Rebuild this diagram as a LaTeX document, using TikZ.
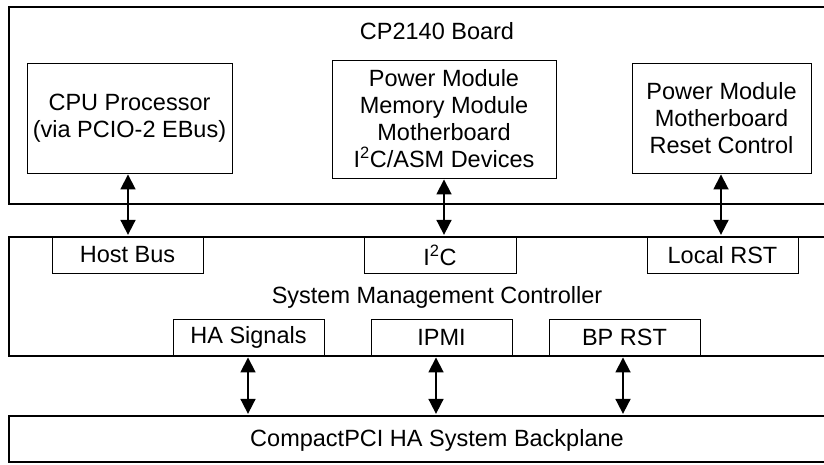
\documentclass[tikz,border=0pt]{standalone}
\usepackage{fontspec}
\setmainfont{Liberation Sans}
\usetikzlibrary{arrows.meta,calc}
\tikzset{
  outerbox/.style={draw, line width=2.3pt, inner sep=0pt, minimum width=856pt},
  innerbox/.style={draw, line width=0.9pt, inner sep=0pt, align=center},
  txt/.style={inner sep=0pt, font=\fontsize{23.5}{27}\selectfont, align=center},
  link/.style={line width=1.8pt, {Triangle[length=15pt,width=15pt]}-{Triangle[length=15pt,width=15pt]}, shorten <=1pt, shorten >=1pt}
}
\begin{document}
\begin{tikzpicture}[x=1pt,y=-1pt]
\useasboundingbox (0,0) rectangle (824,464);
\clip (0,0) rectangle (824,464);
% outer boxes
\node[outerbox, minimum height=197pt] (board) at (437,105.5) {};
\node[outerbox, minimum height=119pt] (smc) at (437,296.5) {};
\node[outerbox, minimum height=46pt] (bp) at (437,439) {};
% titles
\node[txt] (boardlbl) at (437,31) {CP2140 Board};
\node[txt] (smclbl) at (437,297) {System Management Controller};
\node[txt] (bplbl) at (437,440) {CompactPCI HA System Backplane};
% board modules
\node[innerbox, txt, draw, line width=0.9pt, minimum width=205pt, minimum height=110pt] (cpu) at (129.5,118) {CPU Processor\\(via PCIO-2 EBus)};
\node[innerbox, txt, draw, line width=0.9pt, minimum width=224pt, minimum height=118pt] (mid) at (444,119) {Power Module\\Memory Module\\Motherboard\\I\textsuperscript{2}C/ASM Devices};
\node[innerbox, txt, draw, line width=0.9pt, minimum width=179pt, minimum height=110pt] (rst) at (721.5,118) {Power Module\\Motherboard\\Reset Control};
% SMC upper ports
\node[innerbox, txt, draw, line width=0.9pt, minimum width=151pt, minimum height=36pt] (hb) at (127.5,255) {Host Bus};
\node[innerbox, txt, draw, line width=0.9pt, minimum width=152pt, minimum height=36pt] (i2c) at (440,255) {I\textsuperscript{2}C};
\node[innerbox, txt, draw, line width=0.9pt, minimum width=151pt, minimum height=36pt] (lrst) at (722.5,255) {Local RST};
% SMC lower ports
\node[innerbox, txt, draw, line width=0.9pt, minimum width=151pt, minimum height=37pt] (ha) at (248.5,337.5) {HA Signals};
\node[innerbox, txt, draw, line width=0.9pt, minimum width=141pt, minimum height=37pt] (ipmi) at (441.5,337.5) {IPMI};
\node[innerbox, txt, draw, line width=0.9pt, minimum width=151pt, minimum height=37pt] (bprst) at (624.5,337.5) {BP RST};
% connectors
\draw[link] ([xshift=-1.5pt]cpu.south) -- ([xshift=-1.5pt]cpu.south |- smc.north);
\draw[link] (mid.south) -- (mid.south |- smc.north);
\draw[link] ([xshift=-0.5pt]rst.south) -- ([xshift=-0.5pt]rst.south |- smc.north);
\draw[link] ([xshift=-0.5pt]ha.south) -- ([xshift=-0.5pt]ha.south |- bp.north);
\draw[link] ([xshift=-5.5pt]ipmi.south) -- ([xshift=-5.5pt]ipmi.south |- bp.north);
\draw[link] ([xshift=-1.5pt]bprst.south) -- ([xshift=-1.5pt]bprst.south |- bp.north);
\end{tikzpicture}
\end{document}
